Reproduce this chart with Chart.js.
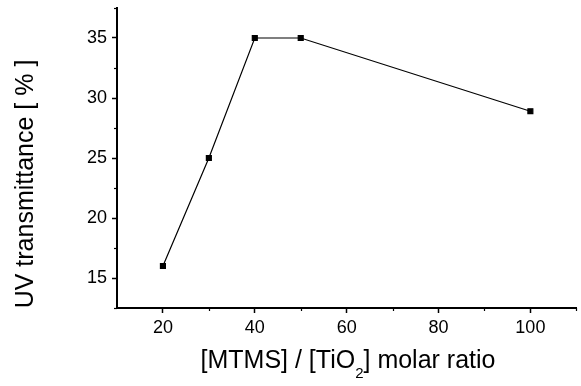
<!DOCTYPE html>
<html>
<head>
<meta charset="utf-8">
<script src="https://cdn.jsdelivr.net/npm/chart.js@4.4.0/dist/chart.umd.min.js"></script>
<style>
  html, body { margin: 0; padding: 0; background: #fff; }
  #wrap { width: 581px; height: 386px; }
</style>
</head>
<body>
<div id="wrap"><canvas id="uvChart"></canvas></div>
<script>
var ratio = [20, 30, 40, 50, 100];
var transmittance = [16, 25, 35, 35, 28.9];
var xTicks = [20, 40, 60, 80, 100];
var yTicks = [15, 20, 25, 30, 35];
var xMinor = [30, 50, 70, 90, 110];
var yMinor = [12.5, 17.5, 22.5, 27.5, 32.5, 37.5];

var FONT = '"Liberation Sans", Arial, Helvetica, sans-serif';

// axis titles (x title needs a subscript) and the small minor ticks
var extras = {
	id: 'extras',
	afterDraw: function(chart) {
		var ctx = chart.ctx;
		var xs = chart.scales.x, ys = chart.scales.y;
		var area = chart.chartArea;
		ctx.save();
		ctx.strokeStyle = '#000';
		ctx.lineWidth = 1.2;
		xMinor.forEach(function(v){
			var px = Math.round(xs.getPixelForValue(v)) + 0.5;
			ctx.beginPath();
			ctx.moveTo(px, area.bottom);
			ctx.lineTo(px, area.bottom + 3);
			ctx.stroke();
		});
		yMinor.forEach(function(v){
			var py = Math.round(ys.getPixelForValue(v)) + 0.5;
			ctx.beginPath();
			ctx.moveTo(area.left, py);
			ctx.lineTo(area.left - 3, py);
			ctx.stroke();
		});

		ctx.fillStyle = '#000';
		// y title
		ctx.save();
		ctx.translate(33, 184);
		ctx.rotate(-Math.PI / 2);
		ctx.font = '25px ' + FONT;
		ctx.textAlign = 'center';
		ctx.textBaseline = 'alphabetic';
		ctx.fillText('UV transmittance [ % ]', 0, 0);
		ctx.restore();

		// x title with subscript
		var parts = [
			{ t: '[MTMS] / [TiO', size: 25, dy: 0 },
			{ t: '2', size: 15, dy: 10 },
			{ t: '] molar ratio', size: 25, dy: 0 }
		];
		var total = 0;
		parts.forEach(function(p){
			ctx.font = p.size + 'px ' + FONT;
			p.w = ctx.measureText(p.t).width;
			total += p.w;
		});
		var x = 348 - total / 2;
		ctx.textAlign = 'left';
		ctx.textBaseline = 'alphabetic';
		parts.forEach(function(p){
			ctx.font = p.size + 'px ' + FONT;
			ctx.fillText(p.t, x, 368 + p.dy);
			x += p.w;
		});
		ctx.restore();
	}
};

var ctx = document.getElementById('uvChart');
var chart = new Chart(ctx, {
	type: 'line',
	data: {
		datasets: [{
			data: ratio.map(function(r, i){ return { x: r, y: transmittance[i] }; }),
			borderColor: '#000',
			borderWidth: 1.2,
			backgroundColor: '#000',
			pointStyle: 'rect',
			pointRadius: 3.5,
			pointHoverRadius: 3.5,
			tension: 0,
			fill: false
		}]
	},
	options: {
		responsive: true,
		maintainAspectRatio: false,
		animation: false,
		events: [],
		layout: { padding: { top: 8, right: 1, left: 0, bottom: 0 } },
		plugins: {
			legend: { display: false },
			tooltip: { enabled: false }
		},
		scales: {
			x: {
				type: 'linear',
				min: 10,
				max: 110,
				afterBuildTicks: function(scale){
					scale.ticks = xTicks.map(function(v){ return { value: v }; });
				},
				afterFit: function(scale){
					scale.height = 78;
					scale.paddingLeft = 0;
					scale.paddingRight = 0;
				},
				border: { display: true, color: '#000', width: 2 },
				grid: { drawOnChartArea: false, drawTicks: true, tickLength: 5, tickColor: '#000', tickWidth: 1.5 },
				ticks: { color: '#000', padding: 4, maxRotation: 0, font: { family: FONT, size: 18 } }
			},
			y: {
				type: 'linear',
				min: 12.5,
				max: 37.5,
				afterBuildTicks: function(scale){
					scale.ticks = yTicks.map(function(v){ return { value: v }; });
				},
				afterFit: function(scale){
					scale.width = 117;
					scale.paddingTop = 0;
					scale.paddingBottom = 0;
				},
				border: { display: true, color: '#000', width: 2 },
				grid: { drawOnChartArea: false, drawTicks: true, tickLength: 5, tickColor: '#000', tickWidth: 1.5 },
				ticks: { color: '#000', padding: 5, font: { family: FONT, size: 18 } }
			}
		}
	},
	plugins: [extras]
});
</script>
</body>
</html>
